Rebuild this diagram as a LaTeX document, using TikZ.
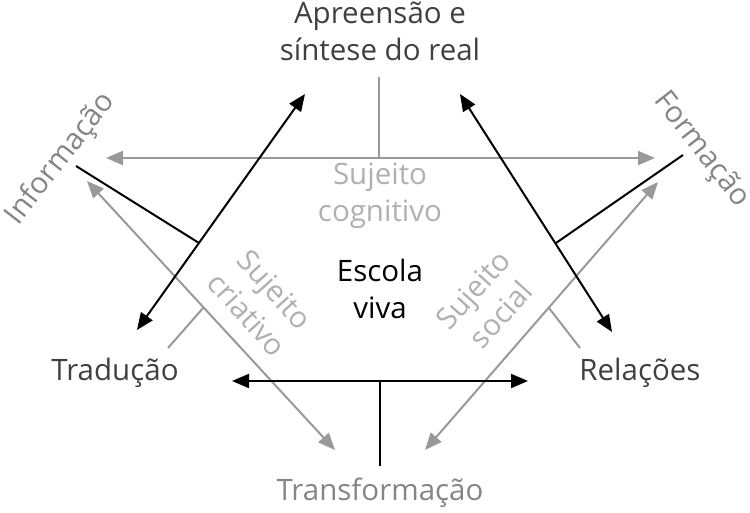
\documentclass[tikz,border=0pt]{standalone}
\usepackage{fontspec}
\setmainfont{Open Sans}
\usetikzlibrary{arrows.meta}
\definecolor{darktxt}{HTML}{404040}
\definecolor{midtxt}{HTML}{858585}
\definecolor{lighttxt}{HTML}{B0B0B0}
\definecolor{greyline}{HTML}{999999}
\tikzset{
  blk/.style={line width=2pt, black},
  gry/.style={line width=2pt, greyline},
  tips/.style={{Triangle[length=17pt,width=14pt]}-{Triangle[length=17pt,width=14pt]}},
  lbl/.style={font=\fontsize{29.5}{37}\selectfont, align=center, inner sep=0pt},
}
\begin{document}
\begin{tikzpicture}[x=1pt,y=-1pt]
\useasboundingbox (0,0) rectangle (750,513);
% coordinates
\coordinate (gl) at (106,158);
\coordinate (gr) at (655,158);
\coordinate (gvt) at (379,77);
\coordinate (gvb) at (379,158);
\coordinate (bhl) at (232,381);
\coordinate (bhr) at (528,381);
\coordinate (bvt) at (380,381);
\coordinate (bvb) at (380,466);
\coordinate (bla) at (137,330);
\coordinate (blb) at (305,94);
\coordinate (blt1) at (76,166);
\coordinate (blt2) at (199,243);
\coordinate (bra) at (460,94);
\coordinate (brb) at (612,332);
\coordinate (brt1) at (683,155);
\coordinate (brt2) at (556,243);
\coordinate (gla) at (87,181);
\coordinate (glb) at (335,450);
\coordinate (glt1) at (168,348);
\coordinate (glt2) at (204,307);
\coordinate (gra) at (658,182);
\coordinate (grb) at (425,450);
\coordinate (grt1) at (580,348);
\coordinate (grt2) at (549,308);
% grey
\draw[gry,tips] (gl) -- (gr);
\draw[gry] (gvt) -- (gvb);
\draw[gry,tips] (gla) -- (glb);
\draw[gry] (glt1) -- (glt2);
\draw[gry,tips] (gra) -- (grb);
\draw[gry] (grt1) -- (grt2);
% black
\draw[blk,tips] (bhl) -- (bhr);
\draw[blk] (bvt) -- (bvb);
\draw[blk,tips] (bla) -- (blb);
\draw[blk] (blt1) -- (blt2);
\draw[blk,tips] (bra) -- (brb);
\draw[blk] (brt1) -- (brt2);
% texts
\node[lbl, text=darktxt] (apre) at (380,31) {Apreensão e\\síntese do real};
\node[lbl, text=darktxt] (trad) at (115,373) {Tradução};
\node[lbl, text=darktxt] (rel) at (640,373) {Relações};
\node[lbl, text=midtxt] (trans) at (380,493) {Transformação};
\node[lbl, text=midtxt, rotate=52] (info) at (61,159) {Informação};
\node[lbl, text=midtxt, rotate=-52] (form) at (701,150) {Formação};
\node[lbl, text=lighttxt] (cog) at (380,196) {Sujeito\\cognitivo};
\node[lbl, text=black] (esc) at (380,289) {Escola\\viva};
\node[lbl, text=lighttxt, rotate=-48] (cri) at (261,302) {Sujeito\\criativo};
\node[lbl, text=lighttxt, rotate=48] (soc) at (487,302) {Sujeito\\social};
\end{tikzpicture}
\end{document}
